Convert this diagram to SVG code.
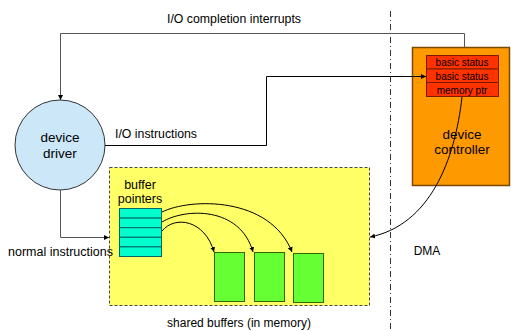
<svg xmlns="http://www.w3.org/2000/svg" width="511" height="331" viewBox="0 0 511 331">
  <style>
    text { font-family: "Liberation Sans", Arial, sans-serif; fill: #000; }
    .lbl { font-size: 12px; }
    .big { font-size: 13.5px; text-anchor: middle; }
    .reg { font-size: 10px; text-anchor: middle; }
    .wire { fill: none; stroke: #000; stroke-width: 1; }
    .grey { fill: none; stroke: #555; stroke-width: 1; }
    .buf { fill: #66ff33; stroke: #336600; stroke-width: 1; }
    .ptr { fill: #00ffcc; stroke: #006666; stroke-width: 1; }
    .regbox { fill: #ff3300; stroke: #7a1a00; stroke-width: 1; }
  </style>
  <defs>
    <marker id="arrow" viewBox="0 0 6 6" refX="6" refY="3" markerWidth="5" markerHeight="5" orient="auto" markerUnits="userSpaceOnUse">
      <path d="M0,0 L6,3 L0,6 z" fill="#000"/>
    </marker>
  </defs>

  <rect width="511" height="331" fill="#fff"/>

  <!-- host / device boundary -->
  <line x1="390.5" y1="11" x2="390.5" y2="331" stroke="#333" stroke-width="1" stroke-dasharray="6,3,1,3"/>

  <g id="shared-buffers">
    <rect x="109.5" y="167.5" width="260" height="138" fill="#ffff66" stroke="#444" stroke-width="1" stroke-dasharray="3,2"/>
    <text class="lbl" x="239" y="327" text-anchor="middle">shared buffers (in memory)</text>
  </g>

  <g id="buffer-pointers">
    <text class="lbl" x="140" y="189" text-anchor="middle" style="font-size:12.5px">buffer</text>
    <text class="lbl" x="140" y="203" text-anchor="middle" style="font-size:12.5px">pointers</text>
    <rect class="ptr" x="119.5" y="208.5" width="42" height="9.6"/>
    <rect class="ptr" x="119.5" y="218.1" width="42" height="9.6"/>
    <rect class="ptr" x="119.5" y="227.7" width="42" height="9.6"/>
    <rect class="ptr" x="119.5" y="237.3" width="42" height="9.6"/>
    <rect class="ptr" x="119.5" y="246.9" width="42" height="9.6"/>
  </g>

  <g id="buffer-1"><rect class="buf" x="214.5" y="252.5" width="30" height="49"/></g>
  <g id="buffer-2"><rect class="buf" x="254.5" y="252.5" width="30" height="49"/></g>
  <g id="buffer-3"><rect class="buf" x="293.5" y="253.5" width="30" height="49"/></g>

  <g id="device-driver">
    <circle cx="60" cy="145" r="45" fill="#cce8f8" stroke="#333" stroke-width="1"/>
    <text class="big" x="60" y="142">device</text>
    <text class="big" x="60" y="158">driver</text>
  </g>

  <g id="device-controller">
    <rect x="412.5" y="47.5" width="97" height="138" fill="#ff9900" stroke="#7a4a00" stroke-width="1.5"/>
    <rect class="regbox" x="426.5" y="55.5" width="72" height="13.5"/>
    <rect class="regbox" x="426.5" y="69" width="72" height="13.5"/>
    <rect class="regbox" x="426.5" y="82.5" width="72" height="14"/>
    <text class="reg" x="462" y="66">basic status</text>
    <text class="reg" x="462" y="79.5">basic status</text>
    <text class="reg" x="462" y="93.5">memory ptr</text>
    <text class="big" x="462" y="139">device</text>
    <text class="big" x="462" y="154">controller</text>
  </g>

  <g id="connectors">
    <!-- completion interrupts back to the driver -->
    <polyline class="grey" points="464.5,47 464.5,33.5 60.5,33.5 60.5,100" marker-end="url(#arrow)"/>
    <!-- I/O instructions into the status register -->
    <polyline class="wire" points="105,145.5 266.5,145.5 266.5,76.5 426,76.5" marker-end="url(#arrow)"/>
    <!-- normal instructions into shared memory -->
    <polyline class="grey" points="60.5,190 60.5,237.5 109,237.5" marker-end="url(#arrow)"/>
    <!-- buffer pointers to buffers -->
    <path class="wire" d="M162,212 C190,198 270,196 292,252" marker-end="url(#arrow)"/>
    <path class="wire" d="M162,222 C185,208 240,206 253,252" marker-end="url(#arrow)"/>
    <path class="wire" d="M162,231 C175,215 205,220 214,252" marker-end="url(#arrow)"/>
    <!-- DMA transfer -->
    <path class="wire" d="M462,97 C455,160 430,225 370,237" marker-end="url(#arrow)"/>
  </g>

  <g id="labels">
    <text class="lbl" x="234" y="23" text-anchor="middle" style="font-size:12.3px">I/O completion interrupts</text>
    <text class="lbl" x="115" y="138" style="font-size:12.3px">I/O instructions</text>
    <text class="lbl" x="8" y="256" style="font-size:12.5px">normal instructions</text>
    <text class="lbl" x="427" y="255" text-anchor="middle">DMA</text>
  </g>
</svg>
